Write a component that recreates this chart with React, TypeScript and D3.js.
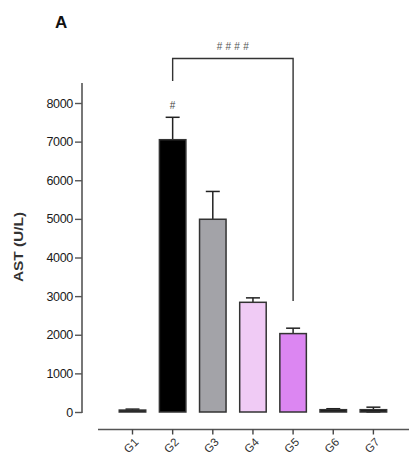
// @ts-nocheck
import { useRef, useEffect } from "react";
import * as d3 from "d3";

const groups = ["G1", "G2", "G3", "G4", "G5", "G6", "G7"];
const means = [50, 7050, 4990, 2840, 2030, 60, 60];
const sems = [25, 580, 720, 115, 140, 25, 65];
const fills = ["#111111", "#000000", "#a3a3a8", "#f0cbf5", "#dc86f2", "#111111", "#111111"];
const yTicks = [0, 1000, 2000, 3000, 4000, 5000, 6000, 7000, 8000];

const W = 414;
const H = 464;
const font = "Arial, 'Liberation Sans', sans-serif";

export default function App() {
  const ref = useRef(null);

  useEffect(() => {
    const svg = d3.select(ref.current);
    svg.selectAll("*").remove();

    const y = d3.scaleLinear().domain([0, 8000]).range([412, 103]);
    const x = d3.scaleBand().domain(groups).range([105.6, 400.3]).padding(0.34);
    const cx = (g) => x(g) + x.bandwidth() / 2;
    const ink = "#333";

    // panel letter
    svg.append("text").attr("x", 55).attr("y", 28).attr("font-family", font)
      .attr("font-weight", "bold").attr("font-size", 17).attr("fill", "#111").text("A");

    // y axis
    const ya = svg.append("g").attr("transform", "translate(82,0)")
      .call(d3.axisLeft(y).tickValues(yTicks).tickSize(7).tickPadding(2).tickFormat(d3.format("d")));
    ya.select(".domain").attr("d", `M0,${y(0) + 1}V83`).attr("stroke", "#555").attr("stroke-width", 1.6);
    ya.selectAll(".tick line").attr("stroke", "#555").attr("stroke-width", 1.4);
    ya.selectAll(".tick text").attr("font-family", font).attr("font-size", 12.5)
      .attr("fill", "#1a1a1a").attr("letter-spacing", -0.3);

    svg.append("text").attr("transform", "translate(23,247) rotate(-90)")
      .attr("text-anchor", "middle").attr("font-family", font).attr("font-weight", "bold")
      .attr("font-size", 12.5).attr("textLength", 70).attr("lengthAdjust", "spacingAndGlyphs")
      .attr("fill", "#333").text("AST (U/L)");

    // x axis
    const xa = svg.append("g").attr("transform", "translate(0,429.5)")
      .call(d3.axisBottom(x).tickSize(5).tickSizeOuter(0).tickFormat(() => ""));
    xa.select(".domain").attr("d", "M98,0H409").attr("stroke", "#555").attr("stroke-width", 1.6);
    xa.selectAll(".tick line").attr("stroke", "#444").attr("stroke-width", 1.4);

    const lab = svg.append("g").selectAll("g").data(groups).join("g")
      .attr("transform", (g) => `translate(${cx(g) + 4},${440})`);
    lab.append("text")
      .attr("transform", "rotate(-45)")
      .attr("x", 0).attr("y", 4)
      .attr("text-anchor", "end")
      .attr("font-family", font).attr("font-size", 11.5).attr("fill", "#333")
      .text((g) => g);

    // error bars
    const eb = svg.append("g").attr("stroke", "#222").attr("stroke-width", 1.5);
    groups.forEach((g, i) => {
      const c = cx(g);
      const top = y(means[i] + sems[i]);
      const bot = y(Math.max(0, means[i] - sems[i]));
      eb.append("line").attr("x1", c).attr("x2", c).attr("y1", top).attr("y2", bot);
      eb.append("line").attr("x1", c - 7).attr("x2", c + 7).attr("y1", top).attr("y2", top);
      eb.append("line").attr("x1", c - 7).attr("x2", c + 7).attr("y1", bot).attr("y2", bot);
    });

    // bars
    svg.append("g").selectAll("rect").data(groups).join("rect")
      .attr("x", (g) => x(g))
      .attr("width", x.bandwidth())
      .attr("y", (g, i) => y(means[i]))
      .attr("height", (g, i) => y(0) - y(means[i]))
      .attr("fill", (g, i) => fills[i])
      .attr("stroke", ink)
      .attr("stroke-width", 1.5);

    // significance bracket
    const bx1 = cx("G2");
    const bx2 = cx("G5");
    const by = 58.5;
    svg.append("path")
      .attr("d", `M${bx1},81V${by}H${bx2}V${y(2850) - 1}`)
      .attr("fill", "none").attr("stroke", "#333").attr("stroke-width", 1.4);
    svg.append("text").attr("x", (bx1 + bx2) / 2 + 1.5).attr("y", 49.5)
      .attr("text-anchor", "middle").attr("font-family", font).attr("font-size", 10)
      .attr("letter-spacing", 3.3).attr("fill", "#555").text("####");
    svg.append("text").attr("x", bx1).attr("y", y(means[1] + sems[1]) - 8)
      .attr("text-anchor", "middle").attr("font-family", font).attr("font-size", 10)
      .attr("fill", "#444").text("#");
  }, []);

  return (
    <svg ref={ref} width={W} height={H}
      style={{ position: "absolute", left: 0, top: 0, background: "#fff" }} />
  );
}
